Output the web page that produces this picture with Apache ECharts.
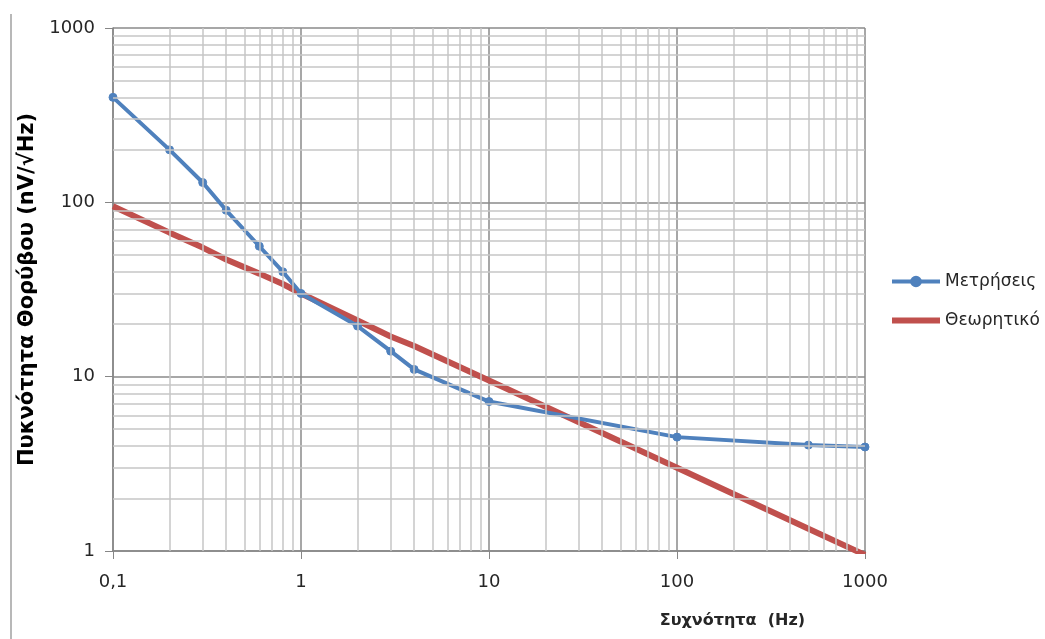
<!DOCTYPE html>
<html>
<head>
<meta charset="utf-8">
<script src="https://cdn.jsdelivr.net/npm/echarts@6/dist/echarts.min.js"></script>
<style>
  html, body { margin: 0; padding: 0; background: #fff; }
  #main { width: 1045px; height: 639px; }
</style>
</head>
<body>
<div id="main"></div>
<script>
var chartDom = document.getElementById('main');
var myChart = echarts.init(chartDom);
var option;

// frequencies (Hz)
const freq = [0.1, 0.2, 0.3, 0.4, 0.6, 0.8, 1, 2, 3, 4, 10, 100, 500, 1000];
// measured noise density (nV/sqrt(Hz))
const measured = [400, 200, 130, 90, 56, 40, 30, 19.5, 14, 11, 7.2, 4.5, 4.05, 3.95];
// theoretical curve
const theory = [95, 67, 55, 47, 39, 34, 30, 21, 17, 15, 9.5, 3, 1.34, 0.95];

// minor grid values (log axes)
const xMinor = [0.2, 0.3, 0.4, 0.5, 0.6, 0.7, 0.8, 0.9, 2, 3, 4, 5, 6, 7, 8, 9,
  20, 30, 40, 50, 60, 70, 80, 90, 200, 300, 400, 500, 600, 700, 800, 900];
const yMinor = [2, 3, 4, 5, 6, 7, 8, 9, 20, 30, 40, 50, 60, 70, 80, 90,
  200, 300, 400, 500, 600, 700, 800, 900];

const font = 'DejaVu Sans';
const blue = '#4F81BD';
const red = '#C0504D';
const fmt = function (v) { return String(v).replace('.', ','); };

const minorLines = xMinor.map(function (v) { return { xAxis: v }; })
  .concat(yMinor.map(function (v) { return { yAxis: v }; }));

option = {
  animation: false,
  textStyle: { fontFamily: font },
  grid: {
    left: 113,
    right: 180,
    top: 28,
    bottom: 88
  },
  legend: {
    orient: 'vertical',
    left: 884,
    top: 268,
    itemWidth: 48,
    itemHeight: 12,
    itemGap: 22,
    textStyle: { fontSize: 17, color: '#262626', fontFamily: font },
    data: [
      { name: 'Μετρήσεις', lineStyle: { width: 4, color: blue } },
      { name: 'Θεωρητικό', lineStyle: { width: 6, color: red }, itemStyle: { opacity: 0 } }
    ]
  },
  xAxis: {
    type: 'log',
    logBase: 10,
    min: 0.1,
    max: 1000,
    name: 'Συχνότητα  (Hz)',
    nameLocation: 'end',
    nameGap: -60,
    nameTextStyle: {
      fontSize: 16,
      fontWeight: 'bold',
      color: '#262626',
      align: 'right',
      verticalAlign: 'top',
      padding: [62, 0, 0, 0]
    },
    axisLine: { lineStyle: { color: '#868686', width: 1.5 } },
    axisTick: { show: true, length: 8, lineStyle: { color: '#868686' } },
    axisLabel: { formatter: fmt, fontSize: 18, color: '#262626', margin: 22 },
    splitLine: { show: true, lineStyle: { color: '#8a8a8a', width: 1.5 } }
  },
  yAxis: {
    type: 'log',
    logBase: 10,
    min: 1,
    max: 1000,
    name: 'Πυκνότητα Θορύβου (nV/√Hz)',
    nameLocation: 'middle',
    nameRotate: 90,
    nameGap: 69,
    nameTextStyle: { fontSize: 21, fontWeight: 'bold', color: '#000' },
    axisLine: { show: true, lineStyle: { color: '#868686', width: 1.5 } },
    axisTick: { show: true, length: 8, lineStyle: { color: '#868686' } },
    axisLabel: { formatter: fmt, fontSize: 18, color: '#262626', margin: 18 },
    splitLine: { show: true, lineStyle: { color: '#8a8a8a', width: 1.5 } }
  },
  graphic: [
    {
      type: 'line',
      shape: { x1: 11, y1: 14, x2: 11, y2: 639 },
      style: { stroke: '#a0a0a0', lineWidth: 1.5 }
    }
  ],
  series: [
    {
      name: 'grid-minor',
      type: 'line',
      data: [],
      silent: true,
      z: 1,
      markLine: {
        silent: true,
        symbol: 'none',
        label: { show: false },
        lineStyle: { color: '#c6c6c6', width: 1.5, type: 'solid' },
        data: minorLines
      }
    },
    {
      name: 'Μετρήσεις',
      type: 'line',
      z: 4,
      symbol: 'circle',
      symbolSize: 8,
      itemStyle: { color: blue, borderColor: blue, borderWidth: 1 },
      lineStyle: { width: 4, color: blue },
      data: freq.map(function (f, i) { return [f, measured[i]]; })
    },
    {
      name: 'Θεωρητικό',
      type: 'line',
      z: 3,
      symbol: 'none',
      itemStyle: { color: red },
      lineStyle: { width: 6, color: red },
      data: freq.map(function (f, i) { return [f, theory[i]]; })
    }
  ]
};

option && myChart.setOption(option);
</script>
</body>
</html>
